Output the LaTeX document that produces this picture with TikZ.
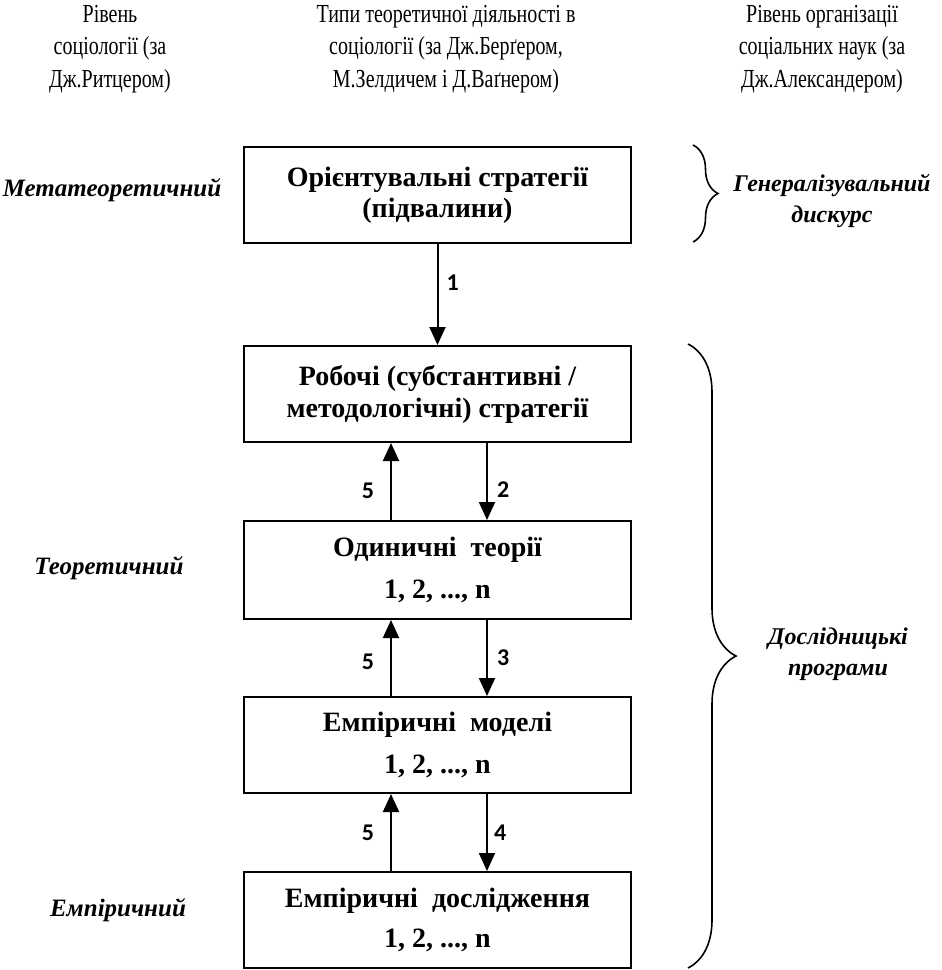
\documentclass[tikz,border=0pt]{standalone}
\usepackage{graphicx}
\usepackage{fontspec}
\setmainfont{Liberation Serif}
\newfontfamily\numfont{Carlito}
\usetikzlibrary{arrows.meta,decorations.pathreplacing,calc}
\newcommand\tallline[1]{\scalebox{1}[1.3]{#1}}
\begin{document}
\begin{tikzpicture}[x=1pt,y=-1pt,
 box/.style={draw,line width=2pt,minimum width=387pt,inner sep=0pt,align=center,font=\bfseries\fontsize{28}{31}\selectfont},
 arr/.style={line width=2pt,-{Triangle[length=18pt,width=16pt]}},
 num/.style={font=\numfont\bfseries\fontsize{24}{26}\selectfont,inner sep=0pt},
 lvl/.style={font=\bfseries\itshape\fontsize{25}{31}\selectfont,align=center,inner sep=0pt},
 rlvl/.style={font=\bfseries\itshape\fontsize{24}{31}\selectfont,align=center,inner sep=0pt},
 head/.style={font=\fontsize{20}{32.5}\selectfont,align=center,inner sep=0pt},
 brc/.style={decorate,line width=1.6pt,decoration={brace,amplitude=#1}}]
\useasboundingbox (0,0) rectangle (942,970);
% headers
\node[head] (h1) at (110,49) {\tallline{Рівень}\\\tallline{соціології (за}\\\tallline{Дж.Ритцером)}};
\node[head] (h2) at (446,49) {\tallline{Типи теоретичної діяльності в}\\\tallline{соціології (за Дж.Берґером,}\\\tallline{М.Зелдичем і Д.Ваґнером)}};
\node[head] (h3) at (822,49) {\tallline{Рівень організації}\\\tallline{соціальних наук (за}\\\tallline{Дж.Александером)}};
% boxes
\node[box,minimum height=96pt] (b1) at (437.5,195) {Орієнтувальні стратегії\\(підвалини)};
\node[box,minimum height=96pt] (b2) at (437.5,394) {Робочі (субстантивні /\\[1pt]методологічні) стратегії};
\node[box,minimum height=98pt] (b3) at (437.5,570) {Одиничні\ \ теорії\\[11pt]1, 2, ..., n};
\node[box,minimum height=96pt] (b4) at (437.5,745) {Емпіричні\ \ моделі\\[11pt]1, 2, ..., n};
\node[box,minimum height=96pt] (b5) at (437.5,920) {Емпіричні\ \ дослідження\\[9pt]1, 2, ..., n};
% arrows
\draw[arr] (b1.south) -- node[num,pos=0.38,right=8pt] {1} (b2.north);
\draw[arr] ([xshift=49.5pt]b2.south) -- node[num,pos=0.6,right=9pt] {2} ([xshift=49.5pt]b3.north);
\draw[arr] ([xshift=-46.5pt]b3.north) -- node[num,pos=0.38,left=16pt] {5} ([xshift=-46.5pt]b2.south);
\draw[arr] ([xshift=49.5pt]b3.south) -- node[num,pos=0.5,right=9pt] {3} ([xshift=49.5pt]b4.north);
\draw[arr] ([xshift=-46.5pt]b4.north) -- node[num,pos=0.45,left=16pt] {5} ([xshift=-46.5pt]b3.south);
\draw[arr] ([xshift=49.5pt]b4.south) -- node[num,pos=0.5,right=6pt] {4} ([xshift=49.5pt]b5.north);
\draw[arr] ([xshift=-46.5pt]b5.north) -- node[num,pos=0.5,left=16pt] {5} ([xshift=-46.5pt]b4.south);
% level labels
\node[lvl] (l1) at (112,190) {Метатеоретичний};
\node[lvl] (l2) at (109,568) {Теоретичний};
\node[lvl] (l3) at (118,910) {Емпіричний};
% braces
\coordinate (s1) at (693,145);
\coordinate (s2) at (693,242);
\draw[brc=25pt] (s1) -- (s2);
\coordinate (t1) at (688,344);
\coordinate (t2) at (688,968);
\draw[brc=48pt] (t1) -- (t2);
\node[rlvl] (r1) at (832,201) {Генералізувальний\\дискурс};
\node[rlvl] (r2) at (838,654) {Дослідницькі\\програми};
\end{tikzpicture}
\end{document}
